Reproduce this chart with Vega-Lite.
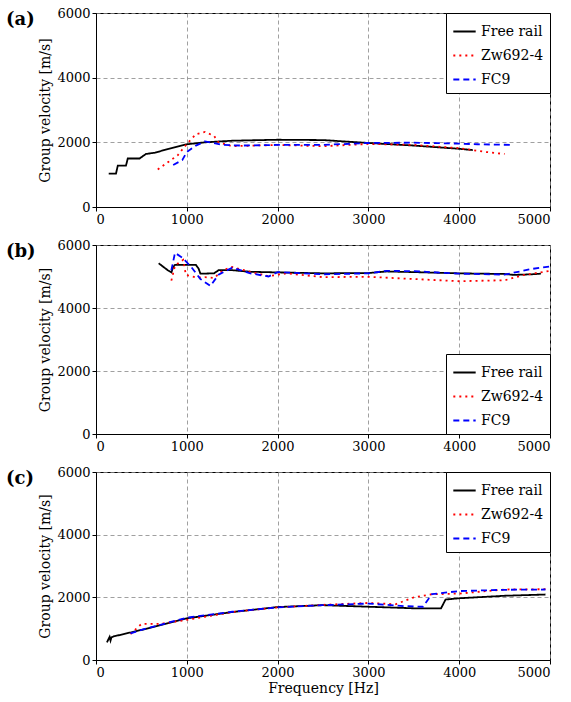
{
"$schema":"https://vega.github.io/schema/vega-lite/v6.json",
"background":"white",
"padding":{"left":5,"top":6,"right":18,"bottom":2},
"config":{"font":"DejaVu Serif","view":{"stroke":"black","strokeWidth":1},
"axis":{"labelFont":"DejaVu Serif","titleFont":"DejaVu Serif","labelFontSize":13,"titleFontSize":14,"titleFontWeight":"normal","labelColor":"black","titleColor":"black","domainColor":"black","tickColor":"black","gridColor":"#888","gridDash":[4,3],"gridOpacity":0.8,"format":"d"},
"legend":{"labelFont":"DejaVu Serif","labelFontSize":14,"labelColor":"black","rowPadding":4},
"title":{"font":"DejaVu Serif","fontSize":18,"fontWeight":"bold","anchor":"start","frame":"group","dx":-90,"dy":18,"offset":-4}},
"spacing":11,
"datasets":{"d":[
{"p":"a","s":"Free rail","f":140,"v":1030},{"p":"a","s":"Free rail","f":220,"v":1030},{"p":"a","s":"Free rail","f":240,"v":1280},{"p":"a","s":"Free rail","f":330,"v":1280},{"p":"a","s":"Free rail","f":350,"v":1500},{"p":"a","s":"Free rail","f":480,"v":1500},{"p":"a","s":"Free rail","f":550,"v":1640},{"p":"a","s":"Free rail","f":650,"v":1680},{"p":"a","s":"Free rail","f":800,"v":1800},{"p":"a","s":"Free rail","f":1000,"v":1940},{"p":"a","s":"Free rail","f":1200,"v":2000},{"p":"a","s":"Free rail","f":1500,"v":2050},{"p":"a","s":"Free rail","f":2000,"v":2080},{"p":"a","s":"Free rail","f":2500,"v":2070},{"p":"a","s":"Free rail","f":3000,"v":1980},{"p":"a","s":"Free rail","f":3500,"v":1900},{"p":"a","s":"Free rail","f":4000,"v":1800},{"p":"a","s":"Free rail","f":4150,"v":1760},
{"p":"a","s":"Zw692-4","f":680,"v":1160},{"p":"a","s":"Zw692-4","f":800,"v":1400},{"p":"a","s":"Zw692-4","f":900,"v":1600},{"p":"a","s":"Zw692-4","f":1000,"v":1950},{"p":"a","s":"Zw692-4","f":1100,"v":2250},{"p":"a","s":"Zw692-4","f":1200,"v":2320},{"p":"a","s":"Zw692-4","f":1300,"v":2200},{"p":"a","s":"Zw692-4","f":1350,"v":2000},{"p":"a","s":"Zw692-4","f":1500,"v":1880},{"p":"a","s":"Zw692-4","f":2000,"v":1920},{"p":"a","s":"Zw692-4","f":2500,"v":1880},{"p":"a","s":"Zw692-4","f":3000,"v":1950},{"p":"a","s":"Zw692-4","f":3500,"v":1920},{"p":"a","s":"Zw692-4","f":4000,"v":1820},{"p":"a","s":"Zw692-4","f":4300,"v":1700},{"p":"a","s":"Zw692-4","f":4500,"v":1640},
{"p":"a","s":"FC9","f":850,"v":1300},{"p":"a","s":"FC9","f":950,"v":1450},{"p":"a","s":"FC9","f":1000,"v":1700},{"p":"a","s":"FC9","f":1100,"v":1900},{"p":"a","s":"FC9","f":1200,"v":2030},{"p":"a","s":"FC9","f":1400,"v":1920},{"p":"a","s":"FC9","f":1600,"v":1900},{"p":"a","s":"FC9","f":2000,"v":1920},{"p":"a","s":"FC9","f":2500,"v":1920},{"p":"a","s":"FC9","f":3000,"v":1980},{"p":"a","s":"FC9","f":3500,"v":1990},{"p":"a","s":"FC9","f":4000,"v":1960},{"p":"a","s":"FC9","f":4200,"v":1940},{"p":"a","s":"FC9","f":4600,"v":1920},
{"p":"b","s":"Free rail","f":690,"v":5420},{"p":"b","s":"Free rail","f":790,"v":5200},{"p":"b","s":"Free rail","f":830,"v":5130},{"p":"b","s":"Free rail","f":850,"v":5300},{"p":"b","s":"Free rail","f":870,"v":5370},{"p":"b","s":"Free rail","f":1100,"v":5370},{"p":"b","s":"Free rail","f":1130,"v":5250},{"p":"b","s":"Free rail","f":1150,"v":5090},{"p":"b","s":"Free rail","f":1300,"v":5100},{"p":"b","s":"Free rail","f":1350,"v":5200},{"p":"b","s":"Free rail","f":1500,"v":5200},{"p":"b","s":"Free rail","f":1700,"v":5150},{"p":"b","s":"Free rail","f":2000,"v":5130},{"p":"b","s":"Free rail","f":2500,"v":5100},{"p":"b","s":"Free rail","f":3000,"v":5110},{"p":"b","s":"Free rail","f":3200,"v":5160},{"p":"b","s":"Free rail","f":3500,"v":5140},{"p":"b","s":"Free rail","f":4000,"v":5100},{"p":"b","s":"Free rail","f":4500,"v":5080},{"p":"b","s":"Free rail","f":4600,"v":5050},{"p":"b","s":"Free rail","f":4800,"v":5070},{"p":"b","s":"Free rail","f":4900,"v":5090},
{"p":"b","s":"Zw692-4","f":830,"v":4870},{"p":"b","s":"Zw692-4","f":870,"v":5350},{"p":"b","s":"Zw692-4","f":960,"v":5530},{"p":"b","s":"Zw692-4","f":990,"v":5050},{"p":"b","s":"Zw692-4","f":1100,"v":4970},{"p":"b","s":"Zw692-4","f":1200,"v":4980},{"p":"b","s":"Zw692-4","f":1300,"v":4950},{"p":"b","s":"Zw692-4","f":1400,"v":5200},{"p":"b","s":"Zw692-4","f":1500,"v":5300},{"p":"b","s":"Zw692-4","f":1700,"v":5150},{"p":"b","s":"Zw692-4","f":1900,"v":5010},{"p":"b","s":"Zw692-4","f":2100,"v":5100},{"p":"b","s":"Zw692-4","f":2500,"v":4980},{"p":"b","s":"Zw692-4","f":3000,"v":4990},{"p":"b","s":"Zw692-4","f":3500,"v":4920},{"p":"b","s":"Zw692-4","f":4000,"v":4850},{"p":"b","s":"Zw692-4","f":4500,"v":4880},{"p":"b","s":"Zw692-4","f":4700,"v":5040},{"p":"b","s":"Zw692-4","f":5000,"v":5180},
{"p":"b","s":"FC9","f":830,"v":5200},{"p":"b","s":"FC9","f":870,"v":5750},{"p":"b","s":"FC9","f":950,"v":5600},{"p":"b","s":"FC9","f":1050,"v":5300},{"p":"b","s":"FC9","f":1150,"v":4920},{"p":"b","s":"FC9","f":1260,"v":4700},{"p":"b","s":"FC9","f":1350,"v":5060},{"p":"b","s":"FC9","f":1500,"v":5280},{"p":"b","s":"FC9","f":1700,"v":5100},{"p":"b","s":"FC9","f":1900,"v":5000},{"p":"b","s":"FC9","f":2000,"v":5140},{"p":"b","s":"FC9","f":2500,"v":5070},{"p":"b","s":"FC9","f":3000,"v":5100},{"p":"b","s":"FC9","f":3200,"v":5180},{"p":"b","s":"FC9","f":3500,"v":5170},{"p":"b","s":"FC9","f":4000,"v":5090},{"p":"b","s":"FC9","f":4500,"v":5060},{"p":"b","s":"FC9","f":4800,"v":5240},{"p":"b","s":"FC9","f":5000,"v":5320},
{"p":"c","s":"Free rail","f":120,"v":560},{"p":"c","s":"Free rail","f":150,"v":740},{"p":"c","s":"Free rail","f":160,"v":620},{"p":"c","s":"Free rail","f":170,"v":720},{"p":"c","s":"Free rail","f":200,"v":760},{"p":"c","s":"Free rail","f":250,"v":790},{"p":"c","s":"Free rail","f":500,"v":960},{"p":"c","s":"Free rail","f":1000,"v":1330},{"p":"c","s":"Free rail","f":1500,"v":1530},{"p":"c","s":"Free rail","f":2000,"v":1690},{"p":"c","s":"Free rail","f":2500,"v":1750},{"p":"c","s":"Free rail","f":3000,"v":1700},{"p":"c","s":"Free rail","f":3500,"v":1650},{"p":"c","s":"Free rail","f":3800,"v":1650},{"p":"c","s":"Free rail","f":3850,"v":1930},{"p":"c","s":"Free rail","f":4000,"v":1970},{"p":"c","s":"Free rail","f":4500,"v":2050},{"p":"c","s":"Free rail","f":4950,"v":2090},
{"p":"c","s":"Zw692-4","f":380,"v":830},{"p":"c","s":"Zw692-4","f":500,"v":1150},{"p":"c","s":"Zw692-4","f":700,"v":1150},{"p":"c","s":"Zw692-4","f":1000,"v":1280},{"p":"c","s":"Zw692-4","f":1500,"v":1530},{"p":"c","s":"Zw692-4","f":2000,"v":1680},{"p":"c","s":"Zw692-4","f":2500,"v":1760},{"p":"c","s":"Zw692-4","f":3000,"v":1820},{"p":"c","s":"Zw692-4","f":3300,"v":1780},{"p":"c","s":"Zw692-4","f":3500,"v":2000},{"p":"c","s":"Zw692-4","f":3700,"v":2100},{"p":"c","s":"Zw692-4","f":4000,"v":2120},{"p":"c","s":"Zw692-4","f":4500,"v":2250},{"p":"c","s":"Zw692-4","f":4950,"v":2260},
{"p":"c","s":"FC9","f":380,"v":850},{"p":"c","s":"FC9","f":500,"v":960},{"p":"c","s":"FC9","f":1000,"v":1350},{"p":"c","s":"FC9","f":1500,"v":1540},{"p":"c","s":"FC9","f":2000,"v":1680},{"p":"c","s":"FC9","f":2500,"v":1750},{"p":"c","s":"FC9","f":3000,"v":1800},{"p":"c","s":"FC9","f":3400,"v":1720},{"p":"c","s":"FC9","f":3600,"v":1700},{"p":"c","s":"FC9","f":3700,"v":2100},{"p":"c","s":"FC9","f":4000,"v":2200},{"p":"c","s":"FC9","f":4500,"v":2240},{"p":"c","s":"FC9","f":4950,"v":2250}
]},
"vconcat":[
{"title":"(a)","width":454,"height":194,"data":{"name":"d"},"transform":[{"filter":"datum.p=='a'"}],
"mark":{"type":"line","strokeWidth":1.8},
"encoding":{"x":{"field":"f","type":"quantitative","scale":{"domain":[0,5000]},"axis":{"title":null,"values":[0,1000,2000,3000,4000,5000],"tickSize":4}},
"y":{"field":"v","type":"quantitative","scale":{"domain":[0,6000]},"axis":{"title":"Group velocity [m/s]","values":[0,2000,4000,6000],"tickSize":4}},
"color":{"field":"s","type":"nominal","scale":{"domain":["Free rail","Zw692-4","FC9"],"range":["black","red","blue"]},"legend":{"title":null,"orient":"top-right","offset":0,"fillColor":"white","strokeColor":"black","padding":6,"symbolSize":500,"symbolStrokeWidth":1.8}},
"strokeDash":{"field":"s","type":"nominal","scale":{"domain":["Free rail","Zw692-4","FC9"],"range":[[1,0],[2,4],[6,4]]},"legend":{"title":null,"orient":"top-right","offset":0,"fillColor":"white","strokeColor":"black","padding":6,"symbolSize":500,"symbolStrokeWidth":1.8}}}},
{"title":"(b)","width":454,"height":189,"data":{"name":"d"},"transform":[{"filter":"datum.p=='b'"}],
"mark":{"type":"line","strokeWidth":1.8},
"encoding":{"x":{"field":"f","type":"quantitative","scale":{"domain":[0,5000]},"axis":{"title":null,"values":[0,1000,2000,3000,4000,5000],"tickSize":4}},
"y":{"field":"v","type":"quantitative","scale":{"domain":[0,6000]},"axis":{"title":"Group velocity [m/s]","values":[0,2000,4000,6000],"tickSize":4}},
"color":{"field":"s","type":"nominal","scale":{"domain":["Free rail","Zw692-4","FC9"],"range":["black","red","blue"]},"legend":{"title":null,"orient":"bottom-right","offset":0,"fillColor":"white","strokeColor":"black","padding":6,"symbolSize":500,"symbolStrokeWidth":1.8}},
"strokeDash":{"field":"s","type":"nominal","scale":{"domain":["Free rail","Zw692-4","FC9"],"range":[[1,0],[2,4],[6,4]]},"legend":{"title":null,"orient":"bottom-right","offset":0,"fillColor":"white","strokeColor":"black","padding":6,"symbolSize":500,"symbolStrokeWidth":1.8}}}},
{"title":"(c)","width":454,"height":188,"data":{"name":"d"},"transform":[{"filter":"datum.p=='c'"}],
"mark":{"type":"line","strokeWidth":1.8},
"encoding":{"x":{"field":"f","type":"quantitative","scale":{"domain":[0,5000]},"axis":{"title":"Frequency [Hz]","values":[0,1000,2000,3000,4000,5000],"tickSize":4,"titlePadding":2}},
"y":{"field":"v","type":"quantitative","scale":{"domain":[0,6000]},"axis":{"title":"Group velocity [m/s]","values":[0,2000,4000,6000],"tickSize":4}},
"color":{"field":"s","type":"nominal","scale":{"domain":["Free rail","Zw692-4","FC9"],"range":["black","red","blue"]},"legend":{"title":null,"orient":"top-right","offset":0,"fillColor":"white","strokeColor":"black","padding":6,"symbolSize":500,"symbolStrokeWidth":1.8}},
"strokeDash":{"field":"s","type":"nominal","scale":{"domain":["Free rail","Zw692-4","FC9"],"range":[[1,0],[2,4],[6,4]]},"legend":{"title":null,"orient":"top-right","offset":0,"fillColor":"white","strokeColor":"black","padding":6,"symbolSize":500,"symbolStrokeWidth":1.8}}}}
],
"resolve":{"legend":{"color":"independent","strokeDash":"independent"}}
}
